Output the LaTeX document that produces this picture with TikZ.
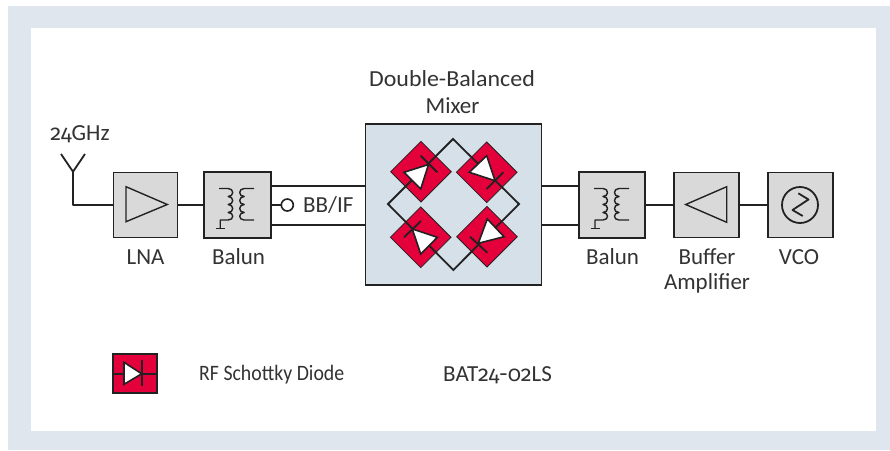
\documentclass[tikz,border=0pt]{standalone}
\usepackage{fontspec}
\setmainfont{Carlito}
\newfontfamily\oldnum[Numbers=OldStyle,Scale=0.95]{Fira Sans}
\usetikzlibrary{shapes.geometric}
\definecolor{band}{HTML}{DFE6EE}
\definecolor{boxgray}{HTML}{D9D9D9}
\definecolor{mixblue}{HTML}{D6E0E9}
\definecolor{diored}{HTML}{E4003A}
\definecolor{ink}{HTML}{222222}
\definecolor{txt}{HTML}{333333}
\tikzset{
  blockbox/.style={draw=ink,line width=1.7pt,fill=boxgray,rectangle,inner sep=0pt,minimum width=#1,minimum height=65pt},
  wire/.style={draw=ink,line width=1.8pt},
  thinw/.style={draw=ink,line width=1.4pt},
  lbl/.style={text=txt,font=\fontsize{23}{26}\selectfont,inner sep=0pt,anchor=center},
  dio/.style={diamond,aspect=1,fill=diored,draw=ink,line width=0.8pt,inner sep=0pt,minimum width=61pt,minimum height=61pt},
  triw/.style={fill=white,draw=ink,line width=1.6pt,line join=miter},
}
\newcommand{\coilsL}{%
  \draw[thinw,line join=round] (-18,-16.5) -- (-9,-16.5)
    .. controls (-3,-16.5) and (-3,-8.5) .. (-9,-8.5)
    .. controls (-3,-8.5) and (-3,-0.5) .. (-9,-0.5)
    .. controls (-3,-0.5) and (-3,7.5) .. (-9,7.5)
    .. controls (-3,7.5) and (-3,15) .. (-9,15) -- (-17,15) -- (-17,23.5);
  \draw[thinw] (-21.5,23.5) -- (-12.5,23.5);
  \draw[thinw,line join=round] (17,-16.5) -- (7,-16.5)
    .. controls (1,-16.5) and (1,-8.5) .. (7,-8.5)
    .. controls (1,-8.5) and (1,-0.5) .. (7,-0.5)
    .. controls (1,-0.5) and (1,7.5) .. (7,7.5)
    .. controls (1,7.5) and (1,15) .. (7,15) -- (17,15);
}
\begin{document}
\begin{tikzpicture}[x=1pt,y=-1pt]
\useasboundingbox (0,0) rectangle (890,450);
\fill[band] (8,6) rectangle (890,450);
\fill[white] (31,28) rectangle (876,431);

% blocks
\node[blockbox=64pt] (lna) at (145.5,205) {};
\node[blockbox=67pt,minimum height=66.5pt] (balA) at (237.2,205) {};
\node[blockbox=176.5pt,minimum height=161pt,fill=mixblue,line width=1.3pt] (mix) at (453.5,204.5) {};
\node[blockbox=66.5pt,minimum height=66pt] (balB) at (612,205) {};
\node[blockbox=65pt] (buf) at (706.8,205) {};
\node[blockbox=64.7pt] (vco) at (800.3,205) {};

% antenna
\coordinate (antbase) at (73,205);
\coordinate (antv) at (73,171.7);
\coordinate (antl) at (61,154);
\coordinate (antr) at (85,154);
\draw[wire,line join=round] (lna.west |- antbase) -- (antbase) -- (antv);
\draw[wire,line join=round] (antl) -- (antv) -- (antr);

% connectors
\draw[wire] (lna.east) -- (balA.west);
\draw[wire] (balB.east) -- (buf.west);
\draw[wire] (buf.east) -- (vco.west);
\node[circle,draw=ink,line width=1.6pt,fill=white,minimum size=12pt,inner sep=0pt] (port) at (287.3,205) {};
\draw[wire] (balA.east |- port) -- (port);
\foreach \yy in {186,225} {
  \coordinate (ly) at (0,\yy);
  \draw[wire] (balA.east |- ly) -- (mix.west |- ly);
  \draw[wire] (mix.east |- ly) -- (balB.west |- ly);
}

% amplifier symbols
\draw[thinw,line join=miter] (126,186.7) -- (167.3,204.5) -- (126,221.7) -- cycle;
\draw[thinw,line join=miter] (726.7,186.7) -- (685.7,204.5) -- (726.7,222.3) -- cycle;

% baluns
\begin{scope}[shift={(237.2,205)}]\coilsL\end{scope}
\begin{scope}[shift={(612,205)}]\coilsL\end{scope}

% VCO
\draw[wire] (800,205) circle (18pt);
\draw[wire,line join=round] (798.3,193.3) -- (808.5,199.5) -- (792.5,210) -- (802.7,216);

% diode diamonds
\node[dio] (d1) at (421,171.7) {};
\node[dio] (d2) at (486.7,172.3) {};
\node[dio] (d3) at (420.7,237.3) {};
\node[dio] (d4) at (487,236.7) {};
\coordinate (brt) at (453,139);
\coordinate (brl) at (388,204);
\coordinate (brr) at (519,204);
\coordinate (brb) at (453.3,270);
\draw[wire,line join=miter] (brt) -- (brl) -- (brb) -- (brr) -- cycle;
% TL
\draw[triw] (404,172.3) -- (428.5,164.5) -- (420.7,189) -- cycle;
\draw[wire] (420.7,155.7) -- (437.3,172.3);
% TR
\draw[triw] (486.7,155.7) -- (469.3,172.3) -- (495,180.7) -- cycle;
\draw[wire] (486.7,189) -- (503.3,172.3);
% BL
\draw[triw] (412.3,229) -- (437.3,237.3) -- (420.7,254) -- cycle;
\draw[wire] (404,237.3) -- (421,221);
% BR
\draw[triw] (478.3,243.3) -- (487.3,219) -- (504,236.7) -- cycle;
\draw[wire] (470,236.7) -- (487.3,252.7);

% legend
\node[draw=ink,line width=1.8pt,fill=diored,minimum width=44pt,minimum height=39pt,inner sep=0pt] (leg) at (135.3,373.8) {};
\draw[wire] (leg.west) -- (leg.east);
\draw[triw] (124,362.3) -- (141.7,373.8) -- (124,384.3) -- cycle;
\draw[wire] (142.3,360.3) -- (142.3,386.3);

% labels
\node[lbl] (t24) at (80,134) {{\oldnum 24}GHz};
\node[lbl] (tlna) at (145.5,257) {LNA};
\node[lbl] (tbal1) at (238.5,257) {Balun};
\node[lbl,anchor=west] (tbb) at (303,205) {BB/IF};
\node[lbl] (tdb) at (452,79) {\scalebox{1.04}[1]{Double-Balanced}};
\node[lbl] (tmx) at (452.5,106) {Mixer};
\node[lbl] (tbal2) at (612.5,257) {Balun};
\node[lbl] (tbuf) at (707,257) {Buffer};
\node[lbl] (tamp) at (707,283) {Amplifier};
\node[lbl] (tvco) at (799,257) {VCO};
\node[lbl,anchor=west,font=\fontsize{22}{26}\selectfont] (trf) at (199,375) {\scalebox{0.9}[1]{RF Schottky Diode}};
\node[lbl,anchor=west] (tbat) at (443,375) {BAT{\oldnum 24-02}LS};
\end{tikzpicture}
\end{document}
